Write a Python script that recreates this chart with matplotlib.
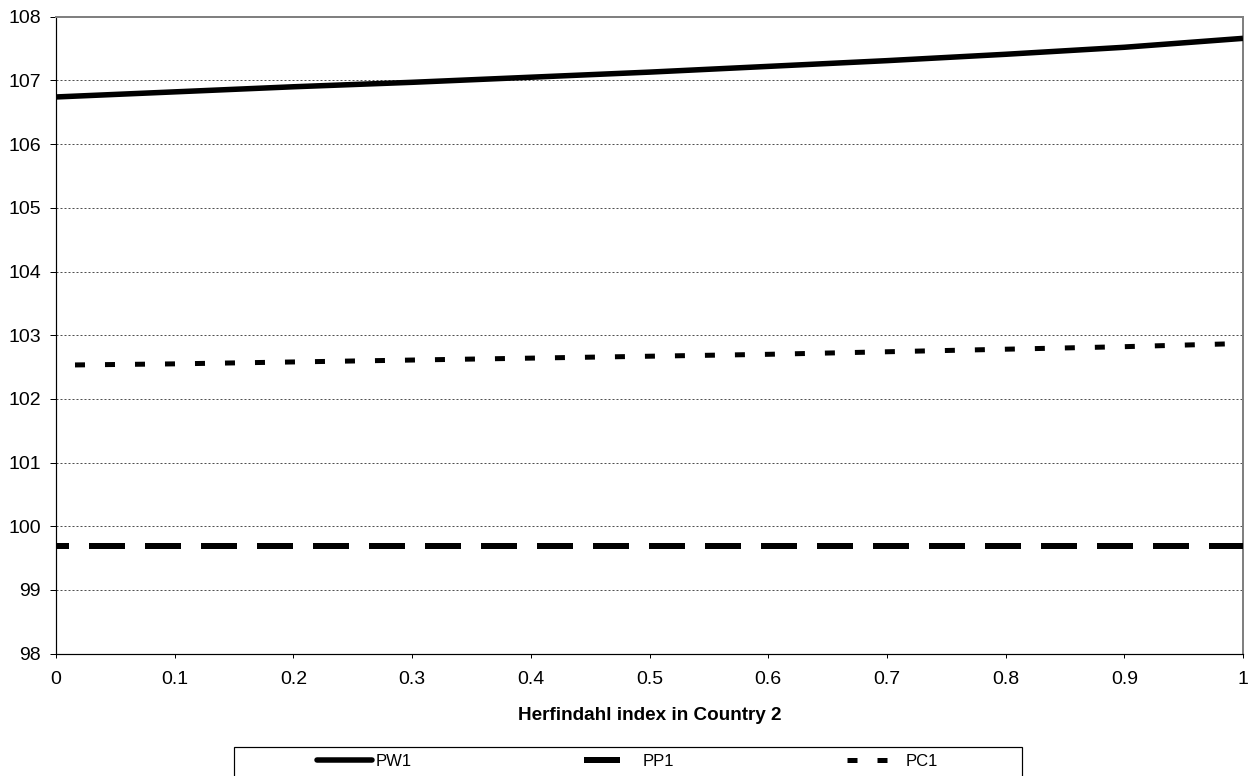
import matplotlib
matplotlib.use('Agg')
import matplotlib.pyplot as plt
from matplotlib.lines import Line2D
from matplotlib.patches import Rectangle

plt.rcParams['font.family'] = 'Liberation Sans'
plt.rcParams['lines.scale_dashes'] = False

# data
herfindahl = [0.0, 0.1, 0.2, 0.3, 0.4, 0.5, 0.6, 0.7, 0.8, 0.9, 1.0]
pw1 = [106.74, 106.82, 106.90, 106.97, 107.05, 107.13, 107.22, 107.31, 107.41, 107.52, 107.66]
pp1 = [99.69, 99.69, 99.69, 99.69, 99.69, 99.69, 99.69, 99.69, 99.69, 99.69, 99.69]
pc1 = [102.53, 102.55, 102.58, 102.61, 102.64, 102.67, 102.70, 102.74, 102.78, 102.82, 102.87]
series_names = ['PW1', 'PP1', 'PC1']
xtick_labels = ['0', '0.1', '0.2', '0.3', '0.4', '0.5', '0.6', '0.7', '0.8', '0.9', '1']
ytick_values = [98, 99, 100, 101, 102, 103, 104, 105, 106, 107, 108]

W, H = 1252, 776
px = 72 / 100  # pixel -> point

fig = plt.figure(figsize=(W / 100, H / 100), dpi=100)
ax = fig.add_axes([56 / W, 1 - 653.7 / H, (1243 - 56) / W, (653.7 - 16.7) / H])

# gridlines
for yv in ytick_values[1:-1]:
    ax.axhline(yv, color='#505050', lw=1 * px, linestyle=(0, (2 * px, 2 * px)), zorder=1)

# series
ax.plot(herfindahl, pw1, color='black', lw=5.5 * px, solid_capstyle='butt', zorder=3)
ax.plot(herfindahl, pp1, color='black', lw=6 * px, dash_capstyle='butt',
        linestyle=(23 * px, (36 * px, 20 * px)), zorder=3)
ax.plot(herfindahl, pc1, color='black', lw=5 * px, dash_capstyle='butt',
        linestyle=(11 * px, (10 * px, 20 * px)), zorder=3)

ax.set_xlim(0, 1)
ax.set_ylim(98, 108)
ax.set_xticks(herfindahl)
ax.set_xticklabels(xtick_labels)
ax.set_yticks(ytick_values)
ax.set_yticklabels([str(v) for v in ytick_values])
ax.tick_params(axis='y', direction='out', length=6 * px, width=1 * px, pad=9 * px, labelsize=14)
ax.tick_params(axis='x', direction='out', length=4 * px, width=1 * px, pad=13 * px, labelsize=14)

for side in ['left', 'bottom']:
    ax.spines[side].set_color('black')
    ax.spines[side].set_linewidth(1.2 * px)
for side in ['top', 'right']:
    ax.spines[side].set_color('#808080')
    ax.spines[side].set_linewidth(2 * px)

ax.set_xlabel('Herfindahl index in Country 2', fontsize=13.6, fontweight='bold', labelpad=19 * px)

# legend
fig.patches.append(Rectangle((234 / W, -0.05), (1022 - 234) / W, (H - 746.7) / H + 0.05,
                             transform=fig.transFigure, fill=False, edgecolor='black',
                             lw=1.2 * px))
handles = [
    Line2D([], [], color='black', lw=5.5 * px, solid_capstyle='round'),
    Line2D([], [], color='black', lw=6 * px, dash_capstyle='butt', linestyle=(0, (36 * px, 20 * px))),
    Line2D([], [], color='black', lw=5 * px, dash_capstyle='butt', linestyle=(0, (10 * px, 20 * px))),
]
fs = 12
em = fs * 100 / 72
fig.legend(handles, series_names, loc='center left', bbox_to_anchor=(317 / W, 1 - 761 / H),
           ncol=3, frameon=False, borderpad=0, borderaxespad=0, fontsize=fs,
           handlelength=55 / em, handletextpad=4 / em, columnspacing=172 / em)

fig.savefig('out.png', dpi=100)
